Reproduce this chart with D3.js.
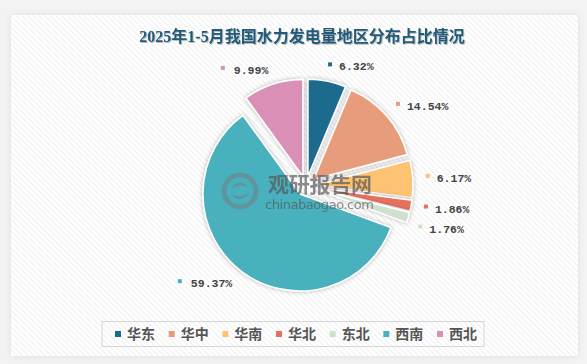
<!DOCTYPE html>
<html><head><meta charset="utf-8">
<script src="https://cdn.jsdelivr.net/npm/d3@7/dist/d3.min.js"></script>
<style>
html,body{margin:0;padding:0;background:#f3f3f3;}
svg{display:block;}
</style></head>
<body>
<svg id="chart" width="587" height="364"></svg>
<script>
// ---- data ----
const titleText = "2025年1-5月我国水力发电量地区分布占比情况";
const categories = ["华东", "华中", "华南", "华北", "东北", "西南", "西北"];
const shares = [6.32, 14.54, 6.17, 1.86, 1.76, 59.37, 9.99];
const colors = ["#1c6b8d", "#e79d7b", "#fdc373", "#e8705f", "#cfe0cf", "#48b1bd", "#da8fb6"];

// ---- layout ----
const W = 587, H = 364;
const cx = 306, cy = 186, r = 97, explode = 10, labelR = 122;

const svg = d3.select("#chart");
const defs = svg.append("defs");

const pat = defs.append("pattern").attr("id", "hatch")
  .attr("patternUnits", "userSpaceOnUse").attr("width", 4).attr("height", 4)
  .attr("patternTransform", "rotate(-45)");
pat.append("rect").attr("width", 4).attr("height", 4).attr("fill", "#ffffff");
pat.append("line").attr("x1", 0).attr("y1", 0).attr("x2", 0).attr("y2", 4)
  .attr("stroke", "#ececec").attr("stroke-width", 1.6);

const cardShadow = defs.append("filter").attr("id", "cardShadow")
  .attr("x", "-5%").attr("y", "-5%").attr("width", "110%").attr("height", "110%");
cardShadow.append("feDropShadow").attr("dx", 0).attr("dy", 0).attr("stdDeviation", 3)
  .attr("flood-color", "#000").attr("flood-opacity", 0.08);

const sliceShadow = defs.append("filter").attr("id", "sliceShadow")
  .attr("x", "-20%").attr("y", "-20%").attr("width", "140%").attr("height", "140%");
sliceShadow.append("feDropShadow").attr("dx", 0).attr("dy", 0).attr("stdDeviation", 2.2)
  .attr("flood-color", "#000").attr("flood-opacity", 0.3);

const titleShadow = defs.append("filter").attr("id", "titleShadow");
titleShadow.append("feDropShadow").attr("dx", 1).attr("dy", 1).attr("stdDeviation", 0.6)
  .attr("flood-color", "#000").attr("flood-opacity", 0.25);

// card
svg.append("rect").attr("x", 11).attr("y", 15).attr("width", 567).attr("height", 341)
  .attr("fill", "url(#hatch)").attr("filter", "url(#cardShadow)");

// title
svg.append("text").attr("x", 302).attr("y", 42).attr("text-anchor", "middle")
  .attr("font-family", "'Liberation Serif','Noto Sans CJK SC',serif")
  .attr("font-weight", "bold").attr("font-size", 16).attr("fill", "#215a78")
  .attr("filter", "url(#titleShadow)")
  .text(titleText);

// pie
const data = categories.map((c, i) => ({ name: c, value: shares[i], color: colors[i] }));
const pie = d3.pie().value(d => d.value).sort(null);
const arcs = pie(data);
const arc = d3.arc().innerRadius(0).outerRadius(r);

const pieG = svg.append("g").attr("transform", `translate(${cx},${cy})`);
pieG.selectAll("path").data(arcs).join("path")
  .attr("d", arc)
  .attr("transform", d => {
    const a = (d.startAngle + d.endAngle) / 2;
    return `translate(${explode * Math.sin(a)},${-explode * Math.cos(a)})`;
  })
  .attr("fill", d => d.data.color)
  .attr("stroke", "#ffffff").attr("stroke-width", 1.5)
  .attr("stroke-linejoin", "round")
  .attr("filter", "url(#sliceShadow)");

// watermark
const wm = svg.append("g").attr("opacity", 0.68);
const logo = wm.append("g").attr("transform", "translate(240,191)");
logo.append("circle").attr("r", 16).attr("fill", "none").attr("stroke", "#6a8a8e").attr("stroke-width", 5);
logo.append("path").attr("d", "M-9,-2 C-6,-10 6,-10 8,-3 C4,-6 -4,-6 -9,-2 Z M9,2 C6,10 -6,10 -8,3 C-4,6 4,6 9,2 Z")
  .attr("fill", "#6a8a8e");
wm.append("text").attr("x", 268).attr("y", 192)
  .attr("font-family", "'Noto Sans CJK SC',sans-serif").attr("font-weight", "bold")
  .attr("font-size", 21).attr("fill", "#555").attr("textLength", 104)
  .text("观研报告网");
wm.append("text").attr("x", 265).attr("y", 209)
  .attr("font-family", "'DejaVu Sans',sans-serif")
  .attr("font-size", 13).attr("fill", "#555").attr("textLength", 109)
  .text("chinabaogao.com");

// labels with simple overlap avoidance
const labels = arcs.map(d => {
  const a = (d.startAngle + d.endAngle) / 2;
  return { d, a, right: Math.sin(a) >= 0, y: cy - labelR * Math.cos(a) };
});
const minGap = 20;
["right", "left"].forEach(side => {
  const group = labels.filter(l => (side === "right") === l.right).sort((p, q) => p.y - q.y);
  for (let i = 1; i < group.length; i++) {
    if (group[i].y - group[i - 1].y < minGap) group[i].y = group[i - 1].y + minGap;
  }
});
labels.forEach(l => {
  const dy = l.y - cy;
  const dx = Math.sqrt(Math.max(labelR * labelR - dy * dy, 0));
  l.x = l.right ? cx + dx : cx - dx;
});

const fmt = v => v.toFixed(2) + "%";
const lg = svg.append("g");
labels.forEach(l => {
  const t = lg.append("text")
    .attr("y", l.y).attr("dy", "0.35em")
    .attr("font-family", "'Liberation Mono','DejaVu Sans Mono',monospace")
    .attr("font-weight", "bold").attr("font-size", 11.5).attr("fill", "#444")
    .text(fmt(l.d.data.value));
  let markX;
  if (l.right) {
    t.attr("x", l.x + 9).attr("text-anchor", "start");
    markX = l.x;
  } else {
    t.attr("x", l.x).attr("text-anchor", "end");
    const w = t.node().getComputedTextLength();
    markX = l.x - w - 11;
  }
  lg.append("rect").attr("x", markX - 2).attr("y", l.y - 4).attr("width", 4).attr("height", 4)
    .attr("fill", l.d.data.color);
});

// legend
svg.append("rect").attr("x", 102).attr("y", 321.5).attr("width", 382).attr("height", 25)
  .attr("fill", "none").attr("stroke", "#d6d6d6").attr("stroke-width", 1);
const lx = d3.scalePoint().domain(categories).range([115, 437]);
const leg = svg.append("g").selectAll("g").data(data).join("g")
  .attr("transform", d => `translate(${lx(d.name)},334)`);
leg.append("rect").attr("x", 0).attr("y", -3).attr("width", 6).attr("height", 6)
  .attr("fill", d => d.color);
leg.append("text").attr("x", 12).attr("y", 0).attr("dy", "0.36em")
  .attr("font-family", "'Noto Sans CJK SC',sans-serif").attr("font-weight", "bold")
  .attr("font-size", 14).attr("fill", "#555")
  .text(d => d.name);
</script>
</body></html>
